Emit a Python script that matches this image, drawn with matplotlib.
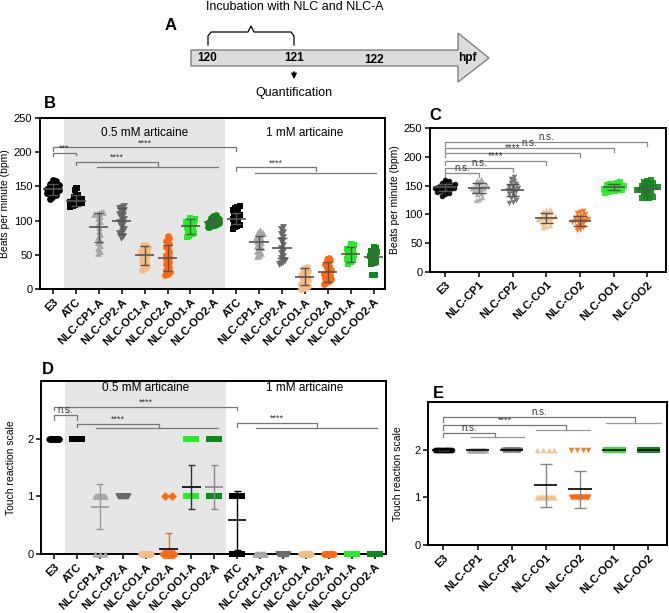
import numpy as np
import matplotlib.pyplot as plt

plt.rcParams['font.family'] = ['Liberation Sans', 'DejaVu Sans']

W, H = 669, 613

# ---- group names ----
grp_b = ['E3', 'ATC', 'NLC-CP1-A', 'NLC-CP2-A', 'NLC-OC1-A', 'NLC-OC2-A', 'NLC-OO1-A', 'NLC-OO2-A',
         'ATC', 'NLC-CP1-A', 'NLC-CP2-A', 'NLC-CO1-A', 'NLC-CO2-A', 'NLC-OO1-A', 'NLC-OO2-A']
grp_d = ['E3', 'ATC', 'NLC-CP1-A', 'NLC-CP2-A', 'NLC-CO1-A', 'NLC-CO2-A', 'NLC-OO1-A', 'NLC-OO2-A',
         'ATC', 'NLC-CP1-A', 'NLC-CP2-A', 'NLC-CO1-A', 'NLC-CO2-A', 'NLC-OO1-A', 'NLC-OO2-A']
grp_c = ['E3', 'NLC-CP1', 'NLC-CP2', 'NLC-CO1', 'NLC-CO2', 'NLC-OO1', 'NLC-OO2']

c_black, c_cp1, c_cp2 = 'black', '#a8a8a8', '#6a6a6a'
c_co1, c_co2, c_oo1, c_oo2 = '#f9bb80', '#ff6a10', '#22ee22', '#0b8a17'
col_b = [c_black, c_black, c_cp1, c_cp2, c_co1, c_co2, c_oo1, c_oo2,
         c_black, c_cp1, c_cp2, c_co1, c_co2, c_oo1, c_oo2]
mk_b = ['o', 's', '^', 'v', 'o', 'o', 's', 'o', 's', '^', 'v', 'o', 'o', 's', 's']
mk_d = ['o', 's', '^', 'v', 'o', 'D', 's', 's', 's', '^', 'v', 'o', 'o', 's', 's']
col_c = [c_black, c_cp1, c_cp2, c_co1, c_co2, c_oo1, c_oo2]
mk_c = ['o', '^', 'v', '^', 'v', 's', 's']

# ---- B: heart rate with articaine (bpm) ----
bpm_b = [
    [132, 135, 137, 138, 140, 141, 142, 143, 144, 145, 145, 146, 147, 148, 148, 149, 150, 151, 152, 153, 155, 156, 158, 160],
    [120, 121, 122, 123, 124, 125, 126, 126, 127, 128, 129, 130, 131, 132, 134, 136, 138, 145, 147, 148],
    [53, 55, 60, 64, 68, 72, 76, 80, 85, 90, 95, 100, 104, 107, 109, 110, 111, 112, 112],
    [75, 78, 82, 85, 88, 92, 95, 98, 100, 102, 105, 108, 110, 112, 115, 118, 120, 122],
    [28, 31, 34, 37, 40, 43, 46, 48, 50, 52, 54, 56, 58, 60, 62, 64, 65],
    [20, 22, 25, 28, 32, 36, 40, 44, 47, 50, 54, 58, 62, 66, 70, 74, 78],
    [76, 78, 80, 82, 84, 86, 88, 90, 92, 94, 96, 98, 100, 101, 102, 103, 104],
    [90, 91, 92, 93, 94, 95, 96, 97, 98, 99, 100, 101, 102, 103, 104, 106, 108],
    [88, 90, 92, 94, 96, 98, 100, 102, 104, 106, 108, 110, 112, 114, 116, 118, 120, 122],
    [48, 50, 52, 55, 58, 61, 64, 66, 68, 70, 72, 74, 76, 78, 80, 82, 84, 86],
    [37, 38, 40, 42, 45, 48, 52, 56, 60, 64, 68, 72, 76, 80, 84, 87, 90],
    [0, 1, 3, 5, 7, 9, 11, 13, 15, 17, 19, 21, 23, 25, 27, 29, 31, 32],
    [8, 10, 12, 14, 16, 18, 20, 22, 24, 26, 28, 30, 33, 36, 39, 42, 44, 46],
    [37, 40, 42, 44, 46, 48, 50, 52, 54, 56, 58, 60, 62, 64, 66],
    [20, 20, 36, 38, 40, 42, 44, 46, 48, 50, 52, 54, 56, 58, 60, 62],
]
mean_b = [146, 129, 90, 100, 49, 46, 92, 98, 103, 68, 60, 18, 25, 51, 47]
sd_b = [8, 8, 21, 19, 14, 19, 11, 5, 8, 10, 14, 12, 15, 11, 10]

# ---- C: heart rate without articaine (bpm) ----
bpm_c = [
    [132, 135, 137, 139, 140, 142, 143, 144, 145, 146, 147, 148, 149, 150, 151, 152, 154, 156, 158, 160],
    [125, 127, 130, 135, 138, 140, 142, 144, 145, 146, 147, 148, 150, 152, 154, 156, 158, 160, 162],
    [120, 122, 125, 128, 132, 135, 138, 140, 142, 143, 144, 146, 148, 150, 152, 155, 158, 162, 165],
    [78, 80, 82, 85, 88, 90, 92, 93, 94, 95, 96, 98, 100, 102, 104, 106, 108, 110],
    [73, 75, 78, 80, 82, 85, 87, 88, 89, 90, 91, 92, 94, 96, 98, 100, 102, 104, 106],
    [137, 139, 140, 141, 142, 143, 144, 145, 146, 147, 148, 149, 150, 151, 152, 153, 154, 156],
    [128, 128, 129, 130, 136, 138, 140, 142, 143, 144, 145, 146, 147, 148, 149, 150, 152, 154, 156, 158, 160],
]
mean_c = [147, 146, 142, 94, 89, 147, 144]
sd_c = [6, 9, 10, 9, 9, 5, 7]

# ---- D / E: touch response, number of larvae scoring 2 / 1 / 0 ----
d_n2 = [20, 20, 0, 0, 0, 0, 3, 3, 0, 0, 0, 0, 0, 0, 0]
d_n1 = [0, 0, 14, 20, 0, 2, 15, 15, 7, 0, 0, 0, 0, 0, 0]
d_n0 = [0, 0, 3, 0, 20, 22, 0, 0, 5, 20, 20, 20, 20, 20, 20]
d_ecol = ['k', 'k', '#999999', '#444444', '#f4a460', '#e07030', '#333333', '#888888',
          'k', '#999999', '#444444', '#f4a460', '#e07030', '#333333', '#888888']

e_n2 = [20, 20, 20, 4, 4, 20, 20]
e_n1 = [0, 0, 0, 12, 20, 0, 0]
e_n0 = [0, 0, 0, 0, 0, 0, 0]


def swarm(vals, binw, step, maxw):
    v = np.sort(np.asarray(vals, float))
    off = np.zeros(len(v))
    bins = np.floor((v - v.min()) / binw + 1e-9)
    for b in np.unique(bins):
        idx = np.where(bins == b)[0]
        k = len(idx)
        s = min(step, 2 * maxw / max(k - 1, 1))
        off[idx] = (np.arange(k) - (k - 1) / 2) * s
    return v, off


def meansd(ax, x, m, sd, col, mw, cw, lw=1.0, mcol=None):
    mcol = col if mcol is None else mcol
    ax.vlines(x, m - sd, m + sd, color=col, lw=lw, zorder=4)
    ax.hlines([m - sd, m + sd], x - cw, x + cw, color=col, lw=lw, zorder=4)
    ax.hlines(m, x - mw, x + mw, color=mcol, lw=lw + 0.2, zorder=4)


def bracket(ax, x0, x1, y, txt, d0, d1, col='#777777', fs=6.5):
    ax.plot([x0, x0, x1, x1], [y - d0, y, y, y - d1], color=col, lw=0.9, clip_on=False, zorder=2)
    ax.text((x0 + x1) / 2, y, txt, ha='center', va='bottom', fontsize=fs, color='#333333')


def style(ax, labels, fs_x):
    for sp in ax.spines.values():
        sp.set_linewidth(1.4)
    ax.set_xticks(range(len(labels)))
    ax.set_xticklabels(labels, rotation=45, ha='right', rotation_mode='anchor',
                       fontsize=fs_x, fontweight='bold')
    ax.tick_params(axis='both', direction='out', length=3.5, width=1.1, labelsize=8, pad=2)


def discrete(n2, n1, n0):
    return [2] * n2 + [1] * n1 + [0] * n0


fig = plt.figure(figsize=(W / 100, H / 100), dpi=100)

# ---------------- panel B ----------------
axB = fig.add_axes([40 / W, 1 - 289 / H, 345 / W, 171 / H])
axB.axvspan(0.5, 7.5, color='#e6e6e6', zorder=0, lw=0)
for i, vals in enumerate(bpm_b):
    v, off = swarm(vals, 7, 0.1, 0.25)
    axB.scatter(i + off, v, s=24, marker=mk_b[i], color=col_b[i], lw=0, zorder=3, clip_on=False)
    meansd(axB, i, mean_b[i], sd_b[i], '#555555', 0.42, 0.2)
axB.set_xlim(-0.57, 14.5)
axB.set_ylim(0, 250)
axB.set_yticks(range(0, 251, 50))
style(axB, grp_b, 8)
axB.set_ylabel('Beats per minute (bpm)', fontsize=7.5, labelpad=3)
axB.text(4.0, 228, '0.5 mM articaine', ha='center', va='center', fontsize=8.5)
axB.text(11.0, 228, '1 mM articaine', ha='center', va='center', fontsize=8.5)
bracket(axB, 0, 1, 199, '***', 5, 3)
bracket(axB, 0, 8, 207, '****', 5, 5)
bracket(axB, 1, 4.6, 186, '****', 5, 6)
axB.plot([1.9, 7.2], [178, 178], color='#777777', lw=0.9)
bracket(axB, 8, 11.5, 178, '****', 6, 6)
axB.plot([8.8, 14.1], [170, 170], color='#777777', lw=0.9)

# ---------------- panel C ----------------
axC = fig.add_axes([430 / W, 1 - 272 / H, 236 / W, 144 / H])
for i, vals in enumerate(bpm_c):
    v, off = swarm(vals, 7, 0.1, 0.3)
    axC.scatter(i + off, v, s=16, marker=mk_c[i], color=col_c[i], lw=0, zorder=3, alpha=0.9)
    meansd(axC, i, mean_c[i], sd_c[i], '#555555', 0.33, 0.2)
axC.set_xlim(-0.45, 6.55)
axC.set_ylim(0, 250)
axC.set_yticks(range(0, 251, 50))
style(axC, grp_c, 8.5)
axC.set_ylabel('Beats per minute (bpm)', fontsize=7.5, labelpad=3)
c_h = [172, 181, 193, 206, 215, 226]
c_txt = ['n.s.', 'n.s.', '****', '****', 'n.s.', 'n.s.']
for j in range(6):
    bracket(axC, 0, j + 1, c_h[j], c_txt[j], 7, 7, col='#8a8a8a', fs=7)

# ---------------- panel D ----------------
axD = fig.add_axes([41 / W, 1 - 554 / H, 345 / W, 173 / H])
axD.axvspan(0.5, 7.5, color='#e6e6e6', zorder=0, lw=0)
for i in range(len(grp_d)):
    vals = discrete(d_n2[i], d_n1[i], d_n0[i])
    v, off = swarm(vals, 0.5, 0.3, 0.22)
    axD.scatter(i + off, v, s=20, marker=mk_d[i], color=col_b[i], lw=0, zorder=3, clip_on=False)
    arr = np.array(vals, float)
    m, sd = arr.mean(), arr.std(ddof=1)
    if sd > 0:
        mc = 'k' if i in (5, 6, 8) else d_ecol[i]
        meansd(axD, i, m, sd, d_ecol[i], 0.4, 0.15, mcol=mc)
axD.set_xlim(-0.57, 14.5)
axD.set_ylim(0, 3)
axD.set_yticks([0, 1, 2])
style(axD, grp_d, 8)
axD.set_ylabel('Touch reaction scale', fontsize=7.5, labelpad=8)
axD.text(4.0, 2.88, '0.5 mM articaine', ha='center', va='center', fontsize=8.5)
axD.text(10.95, 2.88, '1 mM articaine', ha='center', va='center', fontsize=8.5)
bracket(axD, 0, 1, 2.41, 'n.s.', 0.08, 0.08, fs=7)
bracket(axD, 0, 8, 2.55, '****', 0.06, 0.06)
bracket(axD, 1, 4.6, 2.26, '****', 0.06, 0.07)
axD.plot([1.85, 7.15], [2.19, 2.19], color='#777777', lw=0.9)
bracket(axD, 8, 11.5, 2.28, '****', 0.07, 0.08)
axD.plot([8.8, 14.1], [2.19, 2.19], color='#777777', lw=0.9)

# ---------------- panel E ----------------
axE = fig.add_axes([428 / W, 1 - 545 / H, 239 / W, 143 / H])
for i in range(len(grp_c)):
    vals = discrete(e_n2[i], e_n1[i], e_n0[i])
    v, off = swarm(vals, 0.5, 0.3, 0.25)
    axE.scatter(i + off, v, s=16, marker=mk_c[i], color=col_c[i], lw=0, zorder=3, alpha=0.9)
    arr = np.array(vals, float)
    m, sd = arr.mean(), arr.std(ddof=1)
    meansd(axE, i, m, sd, '#888888', 0.34, 0.17, mcol='k')
axE.set_xlim(-0.45, 6.55)
axE.set_ylim(0, 3)
axE.set_yticks([0, 1, 2])
style(axE, grp_c, 8.5)
axE.set_ylabel('Touch reaction scale', fontsize=7.5, labelpad=8)
bracket(axE, 0, 1.5, 2.36, 'n.s.', 0.1, 0.1, fs=7)
axE.plot([0.8, 2.35], [2.26, 2.26], color='#999999', lw=0.9)
bracket(axE, 0, 3.6, 2.52, '****', 0.1, 0.1)
axE.plot([2.72, 4.3], [2.41, 2.41], color='#999999', lw=0.9)
bracket(axE, 0, 5.6, 2.69, 'n.s.', 0.1, 0.1, fs=7)
axE.plot([4.76, 6.36], [2.56, 2.56], color='#999999', lw=0.9)

# ---------------- panel A (timeline, pixel coordinates) ----------------
axA = fig.add_axes([0, 0, 1, 1], zorder=-1)
axA.set_xlim(0, W)
axA.set_ylim(H, 0)
axA.axis('off')
arrow_x = [191, 458, 458, 489, 458, 458, 191]
arrow_y = [50, 50, 33, 58, 82, 66, 66]
axA.fill(arrow_x, arrow_y, facecolor='#dcdcdc', edgecolor='#808080', lw=1)
for lab, xx, yy in [('120', 207, 58), ('121', 294, 58), ('122', 374, 60), ('hpf', 467, 58)]:
    axA.text(xx, yy, lab, ha='center', va='center', fontsize=8.5, fontweight='bold')
axA.plot([208, 208, 211, 248, 251, 254, 291, 294, 294],
         [45, 36, 32, 32, 26, 32, 32, 36, 45], color='k', lw=0.9)
axA.annotate('', xy=(294, 82), xytext=(294, 69),
             arrowprops=dict(arrowstyle='-|>', color='k', lw=1, mutation_scale=8))
axA.text(295, 7, 'Incubation with NLC and NLC-A', ha='center', va='center', fontsize=9)
axA.text(294, 93, 'Quantification', ha='center', va='center', fontsize=9)

for lab, xx, yy in [('A', 171, 25), ('B', 50, 104), ('C', 435, 115), ('D', 48, 370), ('E', 438, 393)]:
    axA.text(xx, yy, lab, ha='center', va='center', fontsize=12, fontweight='bold')

fig.savefig('out.png', dpi=100)
